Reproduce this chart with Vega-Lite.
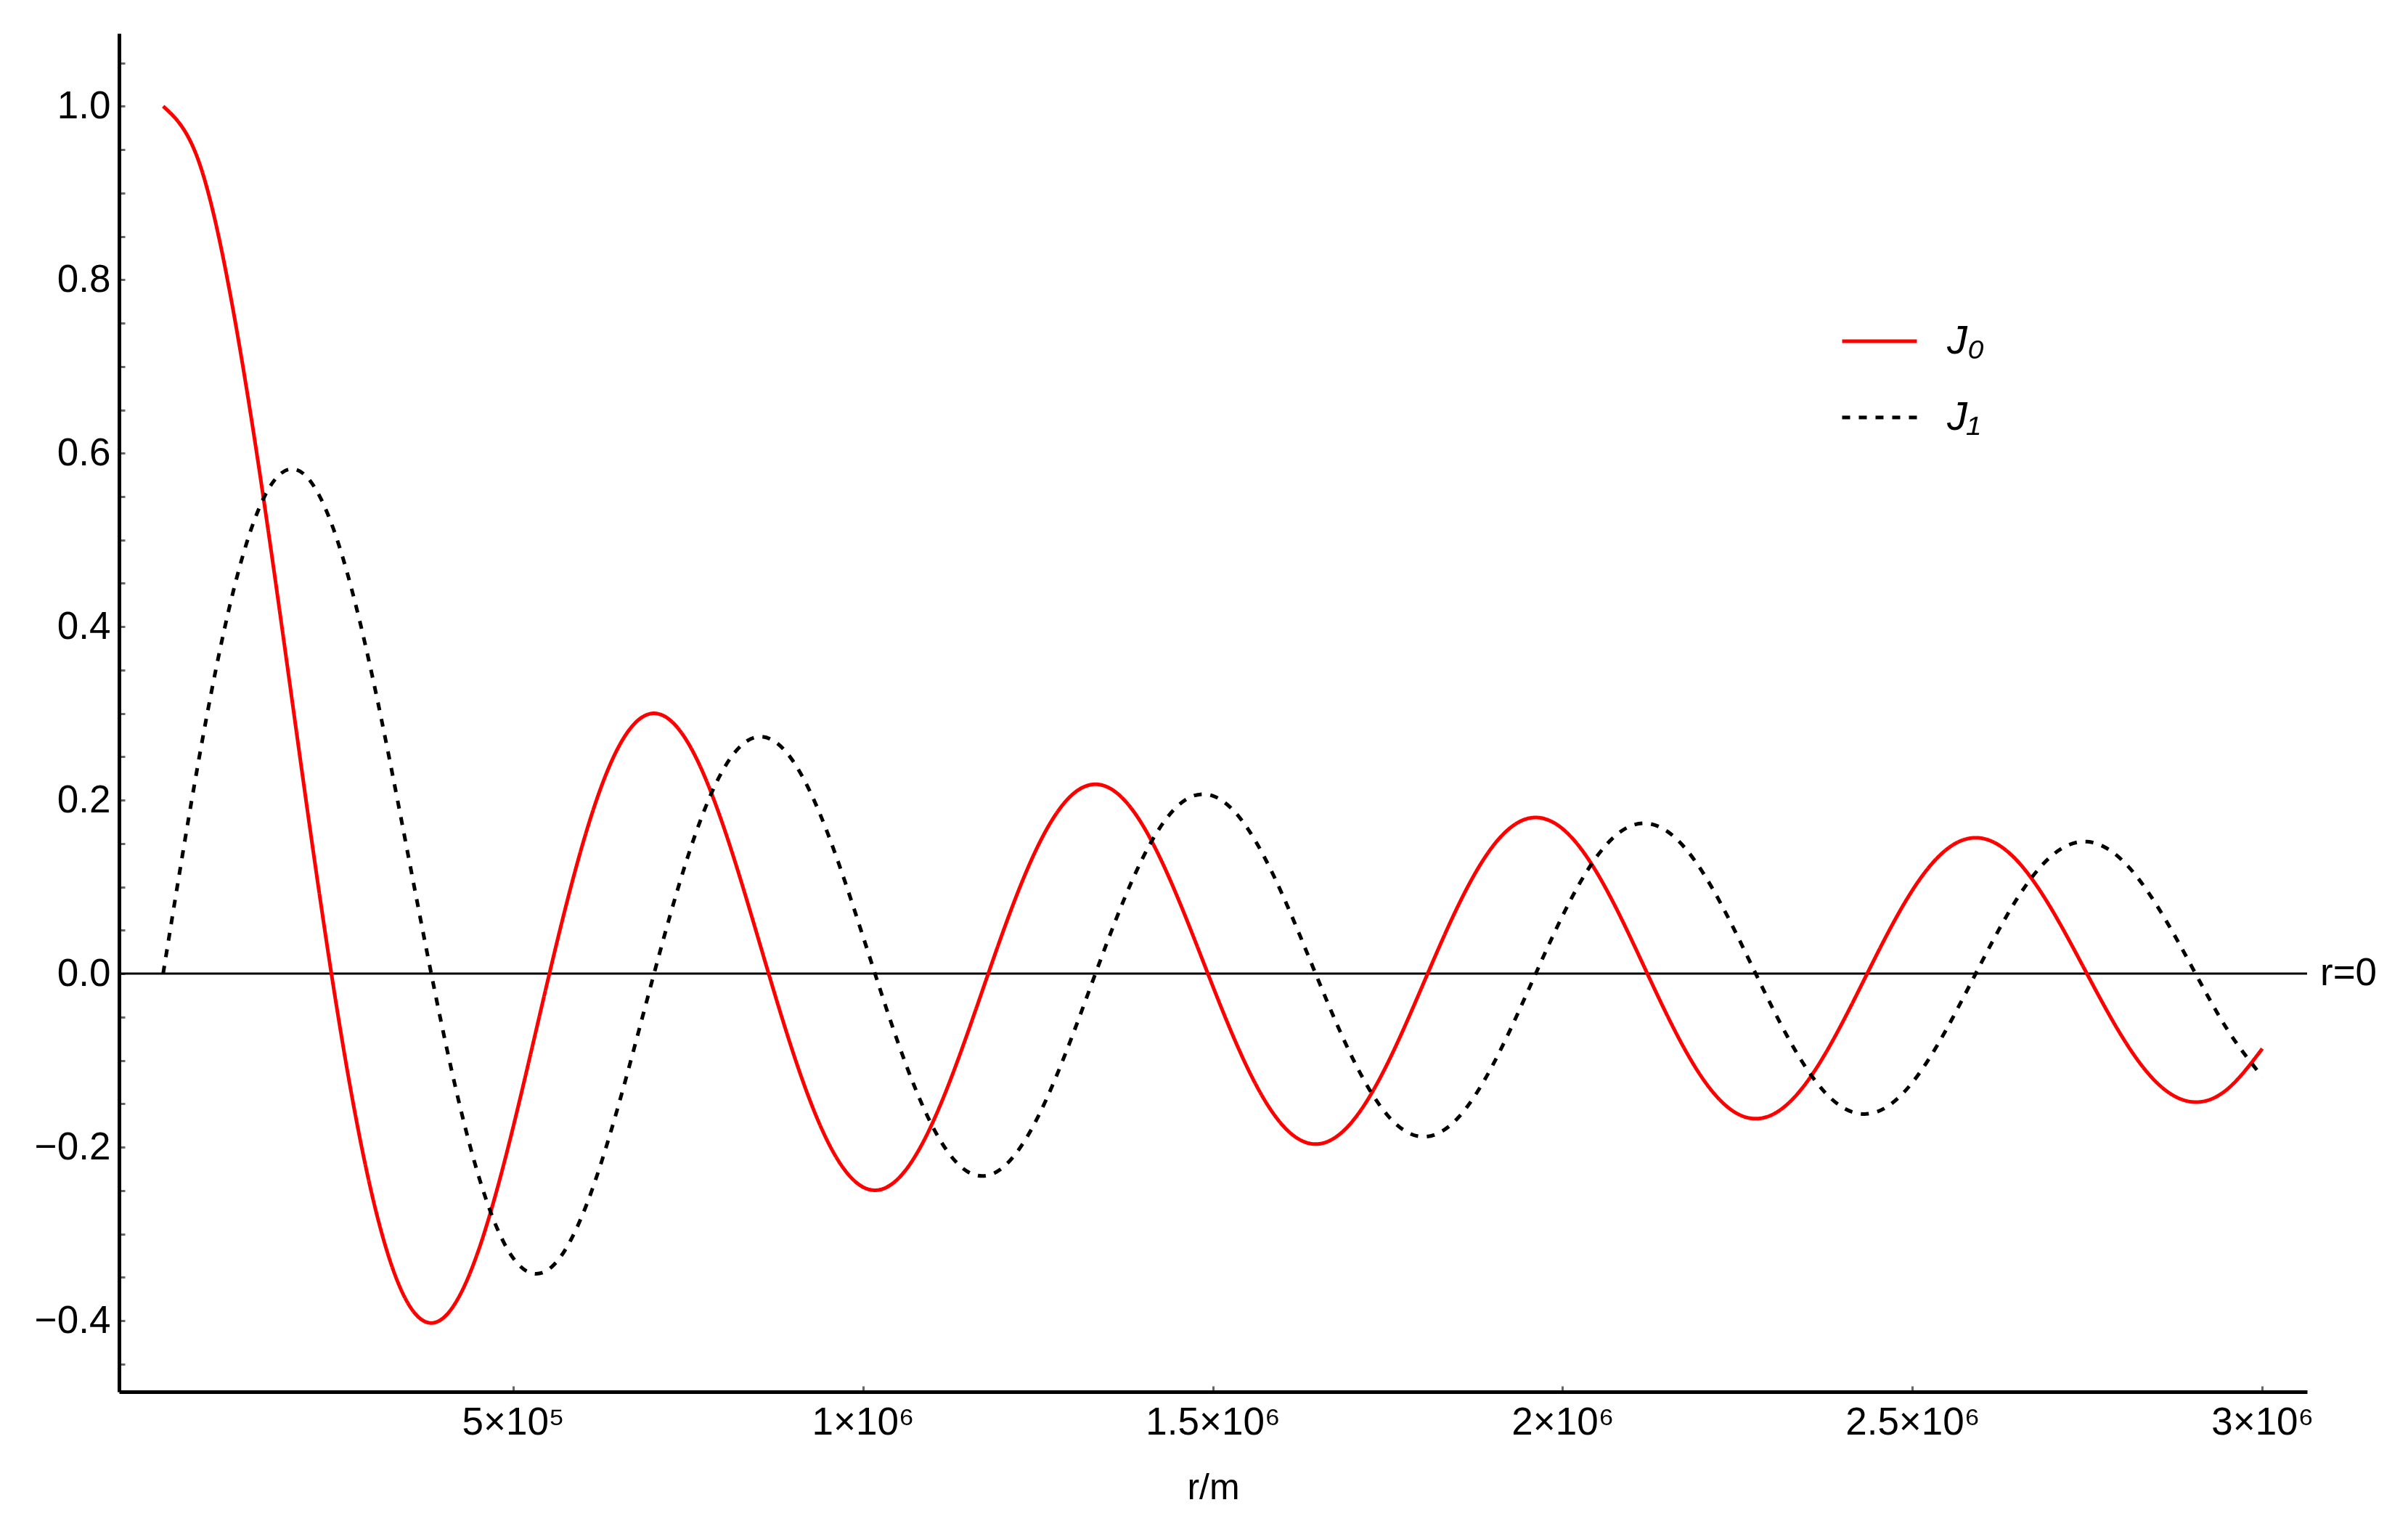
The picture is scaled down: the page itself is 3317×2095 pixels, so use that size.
{
  "$schema": "https://vega.github.io/schema/vega-lite/v6.json",
  "width": 3014,
  "height": 1871,
  "autosize": "none",
  "padding": {"left": 164, "top": 46, "right": 139, "bottom": 178},
  "background": "white",
  "config": {"view": {"stroke": null}, "font": "Liberation Sans"},
  "datasets": {
    "curves": [
      {"r": 0, "J0": 1, "J1": 0},
      {"r": 50000, "J0": 0.93847, "J1": 0.24227},
      {"r": 100000, "J0": 0.7652, "J1": 0.44005},
      {"r": 150000, "J0": 0.51183, "J1": 0.55794},
      {"r": 200000, "J0": 0.22389, "J1": 0.57672},
      {"r": 250000, "J0": -0.04838, "J1": 0.49709},
      {"r": 300000, "J0": -0.26005, "J1": 0.33906},
      {"r": 350000, "J0": -0.38013, "J1": 0.13738},
      {"r": 400000, "J0": -0.39715, "J1": -0.06604},
      {"r": 450000, "J0": -0.32054, "J1": -0.23106},
      {"r": 500000, "J0": -0.1776, "J1": -0.32758},
      {"r": 550000, "J0": -0.00684, "J1": -0.34144},
      {"r": 600000, "J0": 0.15065, "J1": -0.27668},
      {"r": 650000, "J0": 0.26009, "J1": -0.15384},
      {"r": 700000, "J0": 0.30008, "J1": -0.00468},
      {"r": 750000, "J0": 0.26634, "J1": 0.13525},
      {"r": 800000, "J0": 0.17165, "J1": 0.23464},
      {"r": 850000, "J0": 0.04194, "J1": 0.27312},
      {"r": 900000, "J0": -0.09033, "J1": 0.24531},
      {"r": 950000, "J0": -0.19393, "J1": 0.16126},
      {"r": 1000000, "J0": -0.24594, "J1": 0.04347},
      {"r": 1050000, "J0": -0.23665, "J1": -0.07887},
      {"r": 1100000, "J0": -0.17119, "J1": -0.17679},
      {"r": 1150000, "J0": -0.06767, "J1": -0.22839},
      {"r": 1200000, "J0": 0.04769, "J1": -0.22345},
      {"r": 1250000, "J0": 0.14688, "J1": -0.16548},
      {"r": 1300000, "J0": 0.20693, "J1": -0.07032},
      {"r": 1350000, "J0": 0.21499, "J1": 0.03806},
      {"r": 1400000, "J0": 0.17107, "J1": 0.13338},
      {"r": 1450000, "J0": 0.08755, "J1": 0.19343},
      {"r": 1500000, "J0": -0.01422, "J1": 0.2051},
      {"r": 1550000, "J0": -0.10923, "J1": 0.16721},
      {"r": 1600000, "J0": -0.1749, "J1": 0.09039},
      {"r": 1650000, "J0": -0.19638, "J1": -0.00577},
      {"r": 1700000, "J0": -0.16985, "J1": -0.09767},
      {"r": 1750000, "J0": -0.10311, "J1": -0.16342},
      {"r": 1800000, "J0": -0.01336, "J1": -0.188},
      {"r": 1850000, "J0": 0.07716, "J1": -0.16663},
      {"r": 1900000, "J0": 0.14663, "J1": -0.1057},
      {"r": 1950000, "J0": 0.17885, "J1": -0.02087},
      {"r": 2000000, "J0": 0.16702, "J1": 0.06683},
      {"r": 2050000, "J0": 0.1151, "J1": 0.13626},
      {"r": 2100000, "J0": 0.03658, "J1": 0.17112},
      {"r": 2150000, "J0": -0.04894, "J1": 0.16385},
      {"r": 2200000, "J0": -0.12065, "J1": 0.11718},
      {"r": 2250000, "J0": -0.16154, "J1": 0.04324},
      {"r": 2300000, "J0": -0.16241, "J1": -0.03952},
      {"r": 2350000, "J0": -0.12393, "J1": -0.11095},
      {"r": 2400000, "J0": -0.05623, "J1": -0.15404},
      {"r": 2450000, "J0": 0.0237, "J1": -0.15898},
      {"r": 2500000, "J0": 0.09627, "J1": -0.12535},
      {"r": 2550000, "J0": 0.14406, "J1": -0.06205},
      {"r": 2600000, "J0": 0.156, "J1": 0.01505},
      {"r": 2650000, "J0": 0.12988, "J1": 0.08703},
      {"r": 2700000, "J0": 0.07274, "J1": 0.13659},
      {"r": 2750000, "J0": -0.00099, "J1": 0.15214},
      {"r": 2800000, "J0": -0.07316, "J1": 0.13055},
      {"r": 2850000, "J0": -0.12629, "J1": 0.0777},
      {"r": 2900000, "J0": -0.14785, "J1": 0.00693},
      {"r": 2950000, "J0": -0.13315, "J1": -0.06431},
      {"r": 3000000, "J0": -0.08637, "J1": -0.11875}
    ],
    "zeroline": [{"name": "r=0", "value": 0}]
  },
  "layer": [
    {
      "data": {"name": "zeroline"},
      "mark": {"type": "rule", "color": "black", "strokeWidth": 3},
      "encoding": {
        "y": {"field": "value", "type": "quantitative", "scale": {"domain": [-0.482, 1.084], "nice": false, "zero": false}}
      }
    },
    {
      "data": {"name": "zeroline"},
      "mark": {"type": "text", "align": "left", "baseline": "middle", "dx": 18, "fontSize": 53, "font": "Liberation Sans", "color": "black"},
      "encoding": {
        "x": {"value": "width"},
        "y": {"field": "value", "type": "quantitative"},
        "text": {"field": "name"}
      }
    },
    {
      "data": {"name": "curves"},
      "transform": [{"fold": ["J0", "J1"], "as": ["fn", "value"]}],
      "mark": {"type": "line", "strokeWidth": 5, "interpolate": "natural"},
      "encoding": {
        "x": {
          "field": "r", "type": "quantitative",
          "scale": {"domain": [-63000, 3064000], "nice": false, "zero": false},
          "axis": {
            "title": "r/m",
            "titleFont": "Liberation Sans", "titleFontSize": 50, "titleFontWeight": "normal", "titleColor": "black", "titlePadding": 38,
            "values": [500000, 1000000, 1500000, 2000000, 2500000, 3000000],
            "labelExpr": "datum.value == 500000 ? '5×10⁵' : datum.value == 1000000 ? '1×10⁶' : datum.value == 1500000 ? '1.5×10⁶' : datum.value == 2000000 ? '2×10⁶' : datum.value == 2500000 ? '2.5×10⁶' : '3×10⁶'",
            "labelFont": "Liberation Sans", "labelFontSize": 53, "labelColor": "black", "labelPadding": 24,
            "labelFlush": false, "labelOverlap": false, "labelLimit": 1000,
            "tickSize": -8, "tickWidth": 3, "tickColor": "#666666",
            "domainColor": "black", "domainWidth": 5, "grid": false
          }
        },
        "y": {
          "field": "value", "type": "quantitative",
          "scale": {"domain": [-0.482, 1.084], "nice": false, "zero": false},
          "axis": {
            "title": null,
            "values": [-0.45, -0.4, -0.35, -0.3, -0.25, -0.2, -0.15, -0.1, -0.05, 0, 0.05, 0.1, 0.15, 0.2, 0.25, 0.3, 0.35, 0.4, 0.45, 0.5, 0.55, 0.6, 0.65, 0.7, 0.75, 0.8, 0.85, 0.9, 0.95, 1.0, 1.05],
            "labelExpr": "abs(datum.value*5 - round(datum.value*5)) < 0.001 ? (datum.value < -0.001 ? '−' + format(-datum.value, '.1f') : format(abs(datum.value), '.1f')) : ''",
            "labelFont": "Liberation Sans", "labelFontSize": 53, "labelColor": "black", "labelPadding": 20,
            "labelFlush": false, "labelOverlap": false, "labelLimit": 1000,
            "tickSize": -8, "tickWidth": 3, "tickColor": "#666666",
            "domainColor": "black", "domainWidth": 5, "grid": false
          }
        },
        "color": {
          "field": "fn", "type": "nominal",
          "scale": {"domain": ["J0", "J1"], "range": ["#ff0000", "#000000"]},
          "legend": {
            "orient": "none", "legendX": 2371, "legendY": 370, "title": null,
            "symbolType": "stroke", "symbolSize": 10609, "symbolStrokeWidth": 5,
            "labelExpr": "datum.label == 'J0' ? 'J₀' : 'J₁'",
            "labelFont": "Liberation Sans", "labelFontSize": 56, "labelFontStyle": "italic", "labelColor": "black",
            "labelOffset": 39, "rowPadding": 23, "padding": 0
          }
        },
        "strokeDash": {
          "field": "fn", "type": "nominal",
          "scale": {"domain": ["J0", "J1"], "range": [[1, 0], [11, 12]]},
          "legend": {
            "orient": "none", "legendX": 2371, "legendY": 370, "title": null,
            "symbolType": "stroke", "symbolSize": 10609, "symbolStrokeWidth": 5,
            "labelExpr": "datum.label == 'J0' ? 'J₀' : 'J₁'",
            "labelFont": "Liberation Sans", "labelFontSize": 56, "labelFontStyle": "italic", "labelColor": "black",
            "labelOffset": 39, "rowPadding": 23, "padding": 0
          }
        }
      }
    }
  ]
}
